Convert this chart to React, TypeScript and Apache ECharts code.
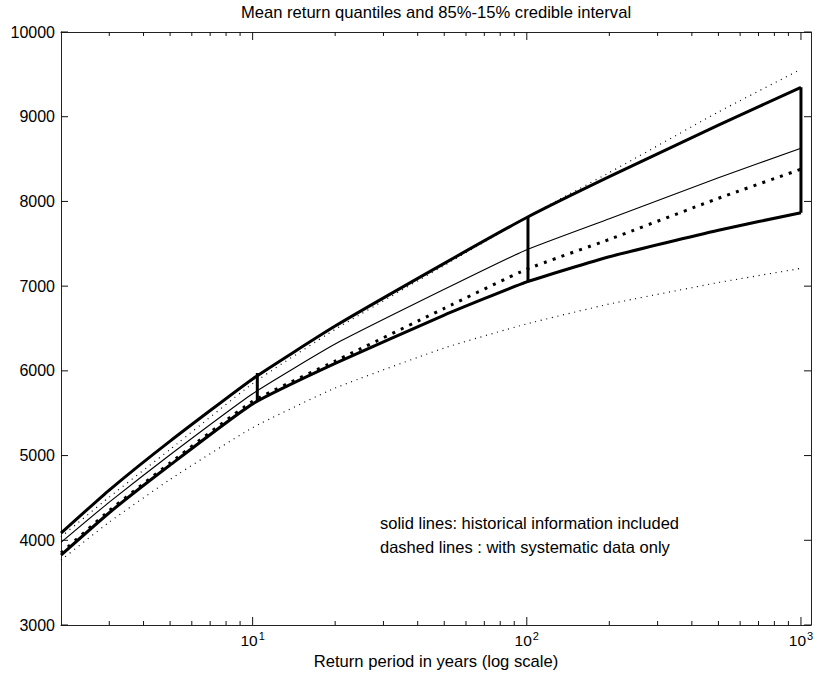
import { useEffect, useRef } from 'react';
import * as echarts from 'echarts';

// ---- data ----
const returnPeriods = [2, 3, 5, 10, 20, 50, 100, 200, 500, 1000];
// historical information included (solid lines)
const histUpper85 = [4085, 4593, 5171, 5905, 6529, 7269, 7810, 8292, 8900, 9347];
const histMean = [3975, 4451, 5010, 5730, 6316, 6962, 7430, 7796, 8280, 8627];
const histLower15 = [3825, 4325, 4888, 5610, 6088, 6659, 7050, 7347, 7660, 7867];
// systematic data only (dotted lines)
const sysUpper85 = [4041, 4510, 5073, 5850, 6490, 7245, 7815, 8340, 9056, 9560];
const sysMean = [3850, 4350, 4913, 5640, 6115, 6738, 7200, 7552, 8037, 8380];
const sysLower15 = [3766, 4215, 4719, 5330, 5797, 6270, 6555, 6789, 7042, 7210];
// vertical credible-interval bars
const intervalPeriods = [10.4, 101, 1000];
const intervalLow = [5640, 7055, 7867];
const intervalHigh = [5975, 7815, 9347];
// axes
const xMajorTicks = [10, 100, 1000];
const xMinorTicks = [3, 4, 5, 6, 7, 8, 9, 20, 30, 40, 50, 60, 70, 80, 90, 200, 300, 400, 500, 600, 700, 800, 900];
const yTicks = [3000, 4000, 5000, 6000, 7000, 8000, 9000, 10000];
const X_MIN = 2;
const X_MAX = 1088;
const Y_MIN = 3000;
const Y_MAX = 10000;
const Y_STEP = 1000;

const TITLE = 'Mean return quantiles and 85%-15% credible interval';
const X_NAME = 'Return period in years (log scale)';
const NOTE_1 = 'solid lines: historical information included';
const NOTE_2 = 'dashed lines : with systematic data only';

const FONT = '"Liberation Sans", Arial, Helvetica, sans-serif';
const AXIS_COLOR = '#222';

function lineSeries(name: string, values: number[], width: number, dash: any, z: number) {
  return {
    type: 'line',
    name,
    data: returnPeriods.map((t, i) => [t, values[i]]),
    symbol: 'none',
    showSymbol: false,
    smooth: 0.15,
    silent: true,
    z,
    lineStyle: { color: '#000', width, type: dash, cap: 'butt', join: 'round' },
  };
}

// ticks drawn through the axes' own scale (inward, on all four sides)
type Tick = [number, number, number]; // [x value, y value, kind] kind: 0 x-minor, 1 x-major, 2 y-major
const tickData: Tick[] = [
  ...xMinorTicks.map((t) => [t, Y_MIN, 0] as Tick),
  ...xMajorTicks.map((t) => [t, Y_MIN, 1] as Tick),
  ...yTicks.map((v) => [X_MIN, v, 2] as Tick),
];

export default function App() {
  const ref = useRef<HTMLDivElement>(null);

  useEffect(() => {
    if (!ref.current) return;
    const chart = echarts.init(ref.current, undefined, { renderer: 'svg' });

    const xLabel = (v: number) => {
      const lv = Math.log10(v);
      const e = Math.round(lv);
      if (Math.abs(lv - e) < 1e-4 && xMajorTicks.some((t) => Math.abs(t - v) < 1e-3)) {
        return `{b|10}{s|${e}}`;
      }
      return '';
    };

    const xCommon = {
      type: 'log',
      logBase: 10,
      min: X_MIN,
      max: X_MAX,
      splitLine: { show: false },
      minorTick: { show: false },
      axisLine: { show: true, lineStyle: { color: AXIS_COLOR, width: 1 } },
      axisTick: { show: false },
    };
    const yCommon = {
      type: 'value',
      min: Y_MIN,
      max: Y_MAX,
      interval: Y_STEP,
      splitLine: { show: false },
      axisLine: { show: true, lineStyle: { color: AXIS_COLOR, width: 1 } },
      axisTick: { show: false },
    };

    const option: any = {
      animation: false,
      backgroundColor: '#ffffff',
      title: {
        text: TITLE,
        left: 436,
        top: 4,
        padding: 0,
        textAlign: 'center',
        textStyle: { fontFamily: FONT, fontSize: 16.6, fontWeight: 'normal', color: '#000' },
      },
      grid: { left: 61, right: 4, top: 32, bottom: 54, containLabel: false, outerBoundsMode: 'none' },
      xAxis: [
        {
          ...xCommon,
          position: 'bottom',
          name: X_NAME,
          nameLocation: 'middle',
          nameGap: 19,
          nameTextStyle: { fontFamily: FONT, fontSize: 16.6, color: '#000' },
          axisLabel: {
            show: true,
            margin: 5,
            formatter: xLabel,
            rich: {
              b: { fontFamily: FONT, fontSize: 15.5, color: '#000' },
              s: { fontFamily: FONT, fontSize: 11, color: '#000', verticalAlign: 'bottom', padding: [0, 0, 10, 1] },
            },
          },
        },
        { ...xCommon, position: 'top', axisLabel: { show: false } },
      ],
      yAxis: [
        {
          ...yCommon,
          position: 'left',
          axisLabel: {
            show: true,
            margin: 6,
            fontFamily: FONT,
            fontSize: 16,
            color: '#000',
            formatter: (v: number) => String(Math.round(v)),
          },
        },
        { ...yCommon, position: 'right', axisLabel: { show: false } },
      ],
      graphic: [
        {
          type: 'text',
          x: 380,
          y: 523,
          silent: true,
          style: { text: NOTE_1, fontFamily: FONT, fontSize: 16.5, fill: '#000', verticalAlign: 'middle', align: 'left' },
        },
        {
          type: 'text',
          x: 380,
          y: 547,
          silent: true,
          style: { text: NOTE_2, fontFamily: FONT, fontSize: 16.5, fill: '#000', verticalAlign: 'middle', align: 'left' },
        },
      ],
      series: [
        lineSeries('85% systematic', sysUpper85, 1.2, [1, 4.7], 2),
        lineSeries('15% systematic', sysLower15, 1.2, [1, 4.7], 2),
        lineSeries('85% historical', histUpper85, 3, 'solid', 3),
        lineSeries('15% historical', histLower15, 3, 'solid', 3),
        lineSeries('mean historical', histMean, 1.1, 'solid', 3),
        lineSeries('mean systematic', sysMean, 3, [3, 6.3], 4),
        ...intervalPeriods.map((t, i) => ({
          type: 'line',
          name: 'interval ' + t,
          data: [
            [t, intervalLow[i]],
            [t, intervalHigh[i]],
          ],
          symbol: 'none',
          showSymbol: false,
          silent: true,
          z: 5,
          lineStyle: { color: '#000', width: 3, type: 'solid', cap: 'butt' },
        })),
        {
          type: 'custom',
          name: 'ticks',
          silent: true,
          clip: false,
          z: 6,
          xAxisIndex: 0,
          yAxisIndex: 0,
          data: tickData,
          encode: { x: 0, y: 1 },
          renderItem: (_params: any, api: any) => {
            const xv = api.value(0);
            const yv = api.value(1);
            const kind = api.value(2);
            const st = { stroke: '#111', lineWidth: 1, fill: 'none' };
            if (kind === 2) {
              const pl = api.coord([X_MIN, yv]);
              const pr = api.coord([X_MAX, yv]);
              return {
                type: 'group',
                children: [
                  { type: 'polyline', shape: { points: [[pl[0], pl[1]], [pl[0] + 7, pl[1]]] }, style: st },
                  { type: 'polyline', shape: { points: [[pr[0], pr[1]], [pr[0] - 7, pr[1]]] }, style: st },
                ],
              };
            }
            const len = kind === 1 ? 8 : 4;
            const pb = api.coord([xv, Y_MIN]);
            const pt = api.coord([xv, Y_MAX]);
            return {
              type: 'group',
              children: [
                { type: 'polyline', shape: { points: [[pb[0], pb[1]], [pb[0], pb[1] - len]] }, style: st },
                { type: 'polyline', shape: { points: [[pt[0], pt[1]], [pt[0], pt[1] + len]] }, style: st },
              ],
            };
          },
        },
      ],
    };

    chart.setOption(option);
    return () => {
      chart.dispose();
    };
  }, []);

  return (
    <div
      ref={ref}
      style={{ position: 'absolute', left: 0, top: 0, width: 815, height: 679, background: '#fff' }}
    />
  );
}
